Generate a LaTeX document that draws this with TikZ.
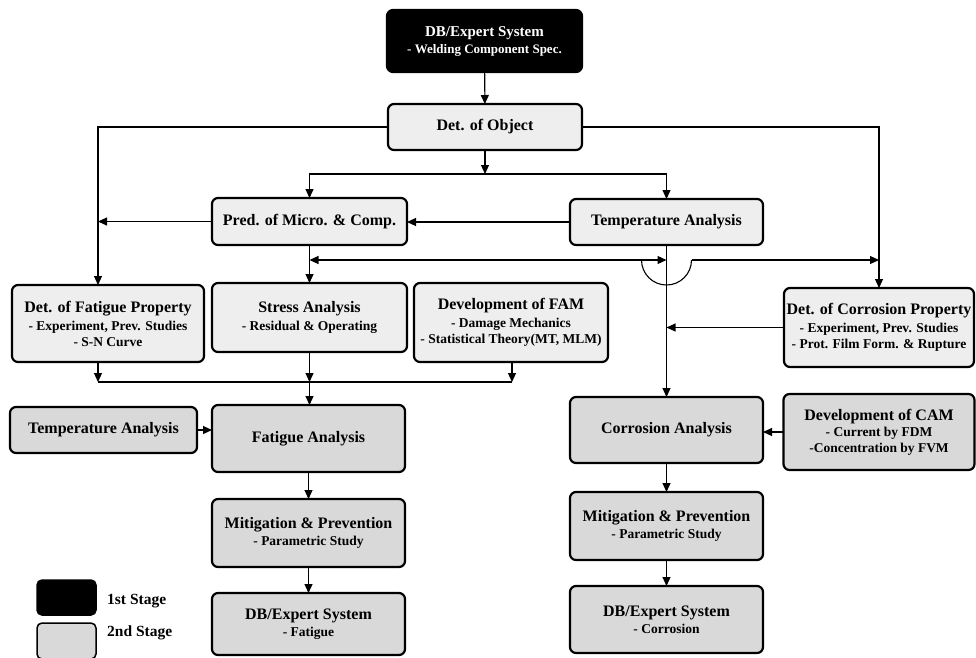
\documentclass[tikz,border=0pt]{standalone}
\usepackage{fontspec}
\setmainfont{Liberation Serif}
\usetikzlibrary{arrows.meta,calc}
\newcommand{\ttl}{\fontsize{16}{18}\selectfont\bfseries}
\newcommand{\sbt}{\fontsize{13.5}{16}\selectfont\bfseries}
\tikzset{
  box/.style={draw=black, line width=2.2pt, rounded corners=6pt, inner sep=0pt, outer sep=0pt, align=center, font=\sbt},
  lite/.style={box, fill=gray!13},
  dark/.style={box, fill=gray!30},
  blk/.style={box, fill=black, text=white},
  lg/.style={draw=black, line width=1.5pt, rounded corners=5pt, minimum width=59pt, inner sep=0pt},
  tip/.tip={Triangle[length=9pt,width=8pt]},
  arr/.style={line width=1.1pt, -tip},
  ln/.style={line width=1.1pt},
  lbl/.style={anchor=west, inner sep=0pt, font=\fontsize{15.5}{17}\selectfont\bfseries},
}
\begin{document}
\begin{tikzpicture}[x=1pt,y=-1pt]
\useasboundingbox (0,0) rectangle (976,657);
% ---- boxes
\node[blk, minimum width=195pt, minimum height=62pt] (top) at (484.5,41)
  {{\fontsize{15}{17}\selectfont\bfseries DB/Expert System}\\[1pt] {\fontsize{13}{15}\selectfont\bfseries - Welding Component Spec.}};
\node[lite, minimum width=194pt, minimum height=46pt] (obj) at (485,127) {{\ttl Det. of Object}};
\node[lite, minimum width=195pt, minimum height=47pt] (pred) at (309.5,221.5) {{\ttl Pred. of Micro. \& Comp.}};
\node[lite, minimum width=193pt, minimum height=46pt] (temp) at (666.5,222) {{\ttl Temperature Analysis}};
\node[lite, minimum width=192pt, minimum height=77pt] (fprop) at (108,323.5)
  {{\ttl Det. of Fatigue Property}\\[2pt] - Experiment, Prev. Studies\\ - S-N Curve};
\node[lite, minimum width=195pt, minimum height=69pt] (stress) at (309.5,317.5)
  {{\ttl Stress Analysis}\\[2pt] - Residual \& Operating};
\node[lite, minimum width=194pt, minimum height=79pt] (fam) at (511,322.5)
  {{\ttl Development of FAM}\\[2pt] - Damage Mechanics\\ - Statistical Theory(MT, MLM)};
\node[lite, minimum width=190pt, minimum height=79pt] (cprop) at (879,327.5)
  {{\ttl Det. of Corrosion Property}\\[2pt] - Experiment, Prev. Studies\\ - Prot. Film Form. \& Rupture};
\node[dark, minimum width=187pt, minimum height=46pt] (temp2) at (103.5,430) {{\ttl Temperature Analysis}};
\node[dark, minimum width=193pt, minimum height=67pt] (fatan) at (308.5,438.5) {{\ttl Fatigue Analysis}};
\node[dark, minimum width=193pt, minimum height=68pt] (mit1) at (308.5,533)
  {{\ttl Mitigation \& Prevention}\\[1pt] - Parametric Study};
\node[dark, minimum width=193pt, minimum height=62pt] (db1) at (308.5,624)
  {{\ttl DB/Expert System}\\[1pt] - Fatigue};
\node[dark, minimum width=193pt, minimum height=66pt] (corr) at (666.5,430) {{\ttl Corrosion Analysis}};
\node[dark, minimum width=191pt, minimum height=76pt] (cam) at (879,432)
  {{\ttl Development of CAM}\\ - Current by FDM\\ -Concentration by FVM};
\node[dark, minimum width=193pt, minimum height=68pt] (mit2) at (666.5,526)
  {{\ttl Mitigation \& Prevention}\\[1pt] - Parametric Study};
\node[dark, minimum width=193pt, minimum height=67pt] (db2) at (666.5,619.5)
  {{\ttl DB/Expert System}\\[1pt] - Corrosion};
% ---- legend
\node[lg, fill=black, minimum height=35pt] (lg1) at (66.5,597.5) {};
\node[lg, fill=gray!30, minimum height=36pt] (lg2) at (66.5,641) {};
\node[lbl] (lt1) at (107,601) {1st Stage};
\node[lbl] (lt2) at (107,633) {2nd Stage};
% ---- connectors
\draw[arr] (top) -- (obj);
\coordinate (fpin) at (98,285);
\draw[arr] (obj.west) -| (fpin);
\draw[arr] (obj.east) -| (cprop.north);
\coordinate (j1) at (485,174);
\draw[arr] (obj.south) -- (j1);
\draw[arr] (j1) -| (pred.north);
\draw[arr] (j1) -| (temp.north);
\draw[arr] (temp.west) -- (temp.west -| pred.east);
\draw[arr] (pred.west) -- (pred.west -| fpin);
\draw[arr] (pred.south) -- (stress.north);
\coordinate (h1) at (309.5,260);
\coordinate (h2) at (666.5,260);
\draw[ln, tip-tip] (h1) -- (h2);
\coordinate (a1) at (641.5,260);
\coordinate (a2) at (691.5,260);
\draw[ln] (a1) arc[start angle=180, end angle=360, radius=25pt];
\draw[arr] (a2) -- (a2 -| cprop.north);
\draw[arr] (temp.south) -- (corr.north);
\draw[arr] (cprop.west) -- (cprop.west -| temp.south);
\coordinate (m1) at (98,382);
\coordinate (m2) at (309.5,382);
\coordinate (m3) at (512,382);
\draw[arr] (fprop.south -| m1) -- (m1);
\draw[arr] (stress.south) -- (m2);
\draw[arr] (fam.south -| m3) -- (m3);
\draw[ln] (m1) -- (m3);
\draw[arr] (m2) -- (m2 |- fatan.north);
\draw[arr] (temp2.east) -- (temp2.east -| fatan.west);
\draw[arr] (fatan) -- (mit1);
\draw[arr] (mit1) -- (db1);
\draw[arr] (cam.west) -- (cam.west -| corr.east);
\draw[arr] (corr) -- (mit2);
\draw[arr] (mit2) -- (db2);
\end{tikzpicture}
\end{document}
